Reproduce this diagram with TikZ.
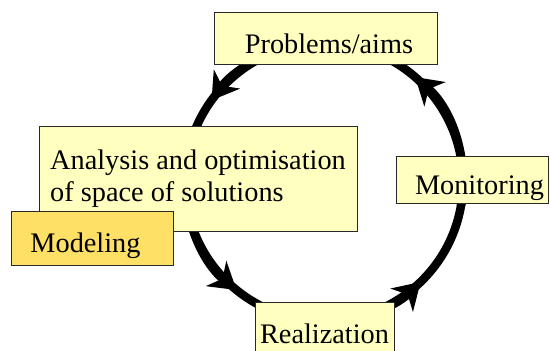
\documentclass[tikz,border=0pt]{standalone}
\usepackage{fontspec}
\setmainfont{LiberationSerif}[Extension=.ttf, UprightFont=*-Regular, BoldFont=*-Bold, ItalicFont=*-Italic, BoldItalicFont=*-BoldItalic]
\usetikzlibrary{arrows.meta}
\definecolor{paleyellow}{RGB}{255,255,192}
\definecolor{goldbox}{RGB}{255,224,102}
\definecolor{boxline}{RGB}{40,40,40}
\begin{document}
\begin{tikzpicture}[x=1pt,y=-1pt,
  box/.style={draw=boxline, line width=0.8pt, fill=paleyellow, inner sep=0pt,
    font=\rmfamily\fontsize{28.3}{32.5}\selectfont},
  ring/.style={line width=8.5pt, black},
  tipped/.style={-{Stealth[length=26pt,width=32pt,inset=8pt]}}]
\useasboundingbox (0,0) rectangle (550,351);
\coordinate (c) at (324,182);
\draw[ring] (c) circle (139pt);
\draw[ring,tipped] ([shift={(100:139pt)}]c) arc (100:144:139pt);
\draw[ring,tipped] ([shift={(180:139pt)}]c) arc (180:231:139pt);
\draw[ring,tipped] ([shift={(270:139pt)}]c) arc (270:314:139pt);
\draw[ring,tipped] ([shift={(-10:139pt)}]c) arc (-10:49:139pt);
\node[box, minimum width=223pt, minimum height=52pt, text height=30pt, text depth=0pt] (prob) at (325.5,38) {\hspace*{7pt}Problems/aims};
\node[box, minimum width=318pt, minimum height=105pt, align=left] (anal) at (198,178.5) {Analysis and optimisation\\of space of solutions};
\node[box, fill=goldbox, minimum width=162pt, minimum height=54pt, text height=28pt, text depth=0pt] (model) at (92,238) {Modeling\hspace*{13pt}};
\node[box, minimum width=139pt, minimum height=54pt, text height=28pt, text depth=0pt] (real) at (324.5,329) {Realization};
\node[box, minimum width=152pt, minimum height=47pt, text height=29pt, text depth=0pt] (mon) at (472,179.5) {\hspace*{15pt}Monitoring};
\end{tikzpicture}
\end{document}
